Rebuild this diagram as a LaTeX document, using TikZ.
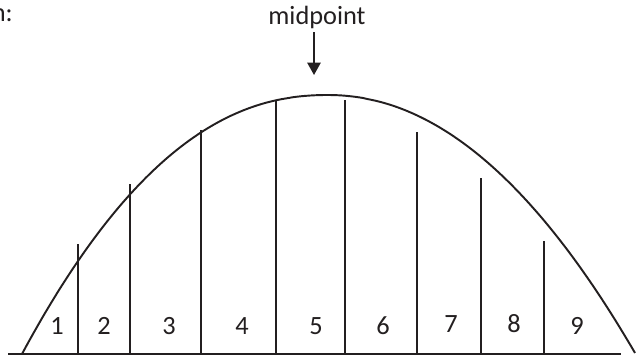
\documentclass[tikz,border=0pt]{standalone}
\usepackage{fontspec}
\setmainfont{Carlito}
\usepackage{xcolor}
\usepackage{tikz}
\usetikzlibrary{positioning, arrows.meta}

\definecolor{ink}{HTML}{231F20}

\begin{document}
\begin{tikzpicture}[
    x=0.02cm, y=-0.02cm,
    curve/.style={draw=ink, line width=1.1pt, line join=round},
    strip/.style={draw=ink, line width=0.85pt},
    num/.style={font=\fontsize{15}{18}\selectfont, text=ink, anchor=base, inner sep=0pt},
    arr/.style={-{Triangle[length=7pt, width=7.5pt]}, draw=ink, line width=1.1pt},
]
\useasboundingbox (0,0) rectangle (638,360);

% --- Base line and curve ---
\coordinate (bl) at (8,354);
\coordinate (br) at (621,354);
\draw[curve] (bl) -- (br);
\draw[curve] plot[domain=22:327.5, samples=80] (\x, {95+259*((328-\x)/306)^2.2})
  -- plot[domain=328.5:635, samples=80] (\x, {95+258*((\x-328)/307)^2.05});

% --- Strips ---
\coordinate (t1) at (78,244);
\coordinate (t2) at (130,184);
\coordinate (t3) at (201,130);
\coordinate (t4) at (276,100);
\coordinate (t5) at (345,100);
\coordinate (t6) at (417,132);
\coordinate (t7) at (481,178);
\coordinate (t8) at (544,241);
\draw[strip] (t1) -- (t1 |- bl);
\draw[strip] (t2) -- (t2 |- bl);
\draw[strip] (t3) -- (t3 |- bl);
\draw[strip] (t4) -- (t4 |- bl);
\draw[strip] (t5) -- (t5 |- bl);
\draw[strip] (t6) -- (t6 |- bl);
\draw[strip] (t7) -- (t7 |- bl);
\draw[strip] (t8) -- (t8 |- bl);

% --- Strip numbers ---
\node[num] (s1) at (57,334) {1};
\node[num] (s2) at (104,334) {2};
\node[num] (s3) at (169,334) {3};
\node[num] (s4) at (242,334) {4};
\node[num] (s5) at (316,334) {5};
\node[num] (s6) at (383,334) {6};
\node[num] (s7) at (451,332) {7};
\node[num] (s8) at (514,332) {8};
\node[num] (s9) at (577,334) {9};

% --- Midpoint marker ---
\node[num, anchor=base east] (cut) at (13,21) {n:};
\node[num] (mid) at (317,24) {midpoint};
\coordinate (peak) at (314,75);
\draw[arr, shorten <=2pt] (mid.south -| peak) -- (peak);
\end{tikzpicture}
\end{document}
